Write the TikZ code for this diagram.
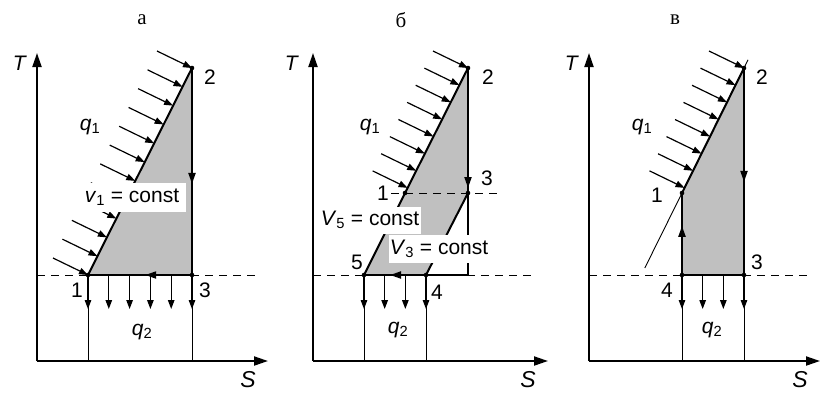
\documentclass[tikz,border=0pt]{standalone}
\usepackage{fontspec}
\setmainfont{Liberation Serif}
\newfontfamily\lsans{Liberation Sans}
\usetikzlibrary{arrows.meta,calc,decorations.markings}

\begin{document}
\begin{tikzpicture}[
  x=1pt, y=-1pt,
  axis/.style={line width=2pt, -{Triangle[length=14pt,width=9pt]}},
  cyc/.style={line width=2pt, line join=round},
  thinln/.style={line width=0.9pt},
  dsh/.style={line width=0.9pt, dash pattern=on 8pt off 6pt},
  heat/.style={line width=1.2pt, -{Triangle[length=9pt,width=6.5pt]}},
  fillc/.style={fill=cyclegray, draw=none},
  dot/.style={circle, fill=black, inner sep=0pt, minimum size=4.6pt},
  lbl/.style={font=\lsans\fontsize{21}{24}\selectfont, inner sep=0pt},
  ttl/.style={font=\fontsize{21}{24}\selectfont, inner sep=0pt},
  cbox/.style={fill=white, inner sep=0pt, font=\lsans\fontsize{21}{24}\selectfont},
  midarr/.style={postaction=decorate, decoration={markings,
    mark=at position #1 with {\arrow{Triangle[length=11pt,width=7pt]}}}}
]
\definecolor{cyclegray}{RGB}{192,192,192}
\useasboundingbox (0,0) rectangle (822,392);

% ---------- panel a ----------
\coordinate (oa) at (37,361);
\coordinate (a1) at (88,275);
\coordinate (a2) at (192,68);
\coordinate (a3) at (192,275);
\fill[cyclegray] (a1) -- (a2) -- (a3) -- cycle;
\draw[thinln] (a1) -- (a1 |- oa);
\draw[thinln] (a3) -- (a3 |- oa);
\draw[dsh] (oa |- a1) -- (258,275);
\draw[axis] (oa) -- (37,53);
\draw[axis] (oa) -- (268,361);
\draw[cyc] (a1) -- (a2);
\draw[cyc, midarr=0.56] (a2) -- (a3);
\draw[cyc, midarr=0.45] (a3) -- (a1);
\foreach \i in {0,...,11}
  \draw[heat] ($(a2)!\i/11!(a1)+(-35,-17)$) -- ($(a2)!\i/11!(a1)$);
\foreach \i in {0,...,5}
  \draw[heat] ($(a1)!\i/5!(a3)$) -- ++(0,34);
\node[cbox, minimum width=108pt, minimum height=29pt] (va) at (132,197)
  {\textit{v}\textsubscript{1} = const};
\foreach \p in {a1,a2,a3} \node[dot] at (\p) {};
\node[ttl] (ta) at (142,20) {а};
\node[lbl] (Ta) at (20,63) {\textit{T}};
\node[lbl, font=\lsans\fontsize{23}{26}\selectfont] (Sa) at (248,380) {\textit{S}};
\node[lbl] (q1a) at (90,127) {\textit{q}\textsubscript{1}};
\node[lbl] (q2a) at (142,332) {\textit{q}\textsubscript{2}};
\node[lbl] (n1a) at (77,290) {1};
\node[lbl] (n2a) at (210,77) {2};
\node[lbl] (n3a) at (205,290) {3};

% ---------- panel b ----------
\coordinate (ob) at (313,361);
\coordinate (b1) at (405,193);
\coordinate (b2) at (468,68);
\coordinate (b3) at (468,193);
\coordinate (b4) at (426,275);
\coordinate (b5) at (364,275);
\coordinate (bc) at (468,275);
\fill[cyclegray] (b5) -- (b1) -- (b2) -- (b3) -- (b4) -- cycle;
\draw[thinln] (b5) -- (b5 |- ob);
\draw[thinln] (b4) -- (b4 |- ob);
\draw[dsh] (ob |- b5) -- (533,275);
\draw[dsh] (391,193) -- (502,193);
\draw[axis] (ob) -- (313,53);
\draw[axis] (ob) -- (548,361);
\draw[cyc] (b3) -- (bc) -- (b4);
\draw[cyc] (b5) -- (b1) -- (b2);
\draw[cyc, midarr=0.96] (b2) -- (b3);
\draw[cyc] (b3) -- (b4);
\draw[cyc, midarr=0.58] (b4) -- (b5);
\foreach \i in {0,...,7}
  \draw[heat] ($(b2)!\i*0.137!(b1)+(-35,-17)$) -- ($(b2)!\i*0.137!(b1)$);
\foreach \i in {0,...,3}
  \draw[heat] ($(b5)!\i/3!(b4)$) -- ++(0,34);
\node[cbox, minimum width=101pt, minimum height=27pt] (v5b) at (370,220)
  {\textit{V}\textsubscript{5} = const};
\node[cbox, minimum width=101pt, minimum height=28pt] (v3b) at (439,249)
  {\textit{V}\textsubscript{3} = const};
\foreach \p in {b1,b2,b3,b4,b5} \node[dot] at (\p) {};
\node[ttl] (tb) at (401,20) {б};
\node[lbl] (Tb) at (292,63) {\textit{T}};
\node[lbl, font=\lsans\fontsize{23}{26}\selectfont] (Sb) at (528,380) {\textit{S}};
\node[lbl] (q1b) at (370,127) {\textit{q}\textsubscript{1}};
\node[lbl] (q2b) at (398,330) {\textit{q}\textsubscript{2}};
\node[lbl] (n1b) at (383,193) {1};
\node[lbl] (n2b) at (488,77) {2};
\node[lbl] (n3b) at (487,178) {3};
\node[lbl] (n4b) at (437,292) {4};
\node[lbl] (n5b) at (357,262) {5};

% ---------- panel c ----------
\coordinate (oc) at (589,361);
\coordinate (c1) at (682,193);
\coordinate (c2) at (744,68);
\coordinate (c3) at (744,275);
\coordinate (c4) at (682,275);
\fill[cyclegray] (c4) -- (c1) -- (c2) -- (c3) -- cycle;
\draw[thinln] (c4) -- (c4 |- oc);
\draw[thinln] (c3) -- (c3 |- oc);
\draw[thinln] ($(c1)!-0.6!(c2)$) -- ($(c2)!-0.065!(c1)$);
\draw[dsh] (oc |- c4) -- (810,275);
\draw[axis] (oc) -- (589,53);
\draw[axis] (oc) -- (820,361);
\draw[cyc] (c1) -- (c2);
\draw[cyc, midarr=0.55] (c2) -- (c3);
\draw[cyc] (c3) -- (c4);
\draw[cyc, midarr=0.6] (c4) -- (c1);
\foreach \i in {0,...,7}
  \draw[heat] ($(c2)!\i*0.137!(c1)+(-35,-17)$) -- ($(c2)!\i*0.137!(c1)$);
\foreach \i in {0,...,3}
  \draw[heat] ($(c4)!\i/3!(c3)$) -- ++(0,34);
\foreach \p in {c1,c2,c3,c4} \node[dot] at (\p) {};
\node[ttl] (tc) at (675,20) {в};
\node[lbl] (Tc) at (572,63) {\textit{T}};
\node[lbl, font=\lsans\fontsize{23}{26}\selectfont] (Sc) at (800,380) {\textit{S}};
\node[lbl] (q1c) at (642,127) {\textit{q}\textsubscript{1}};
\node[lbl] (q2c) at (712,330) {\textit{q}\textsubscript{2}};
\node[lbl] (n1c) at (657,195) {1};
\node[lbl] (n2c) at (762,77) {2};
\node[lbl] (n3c) at (757,262) {3};
\node[lbl] (n4c) at (667,290) {4};
\end{tikzpicture}
\end{document}
